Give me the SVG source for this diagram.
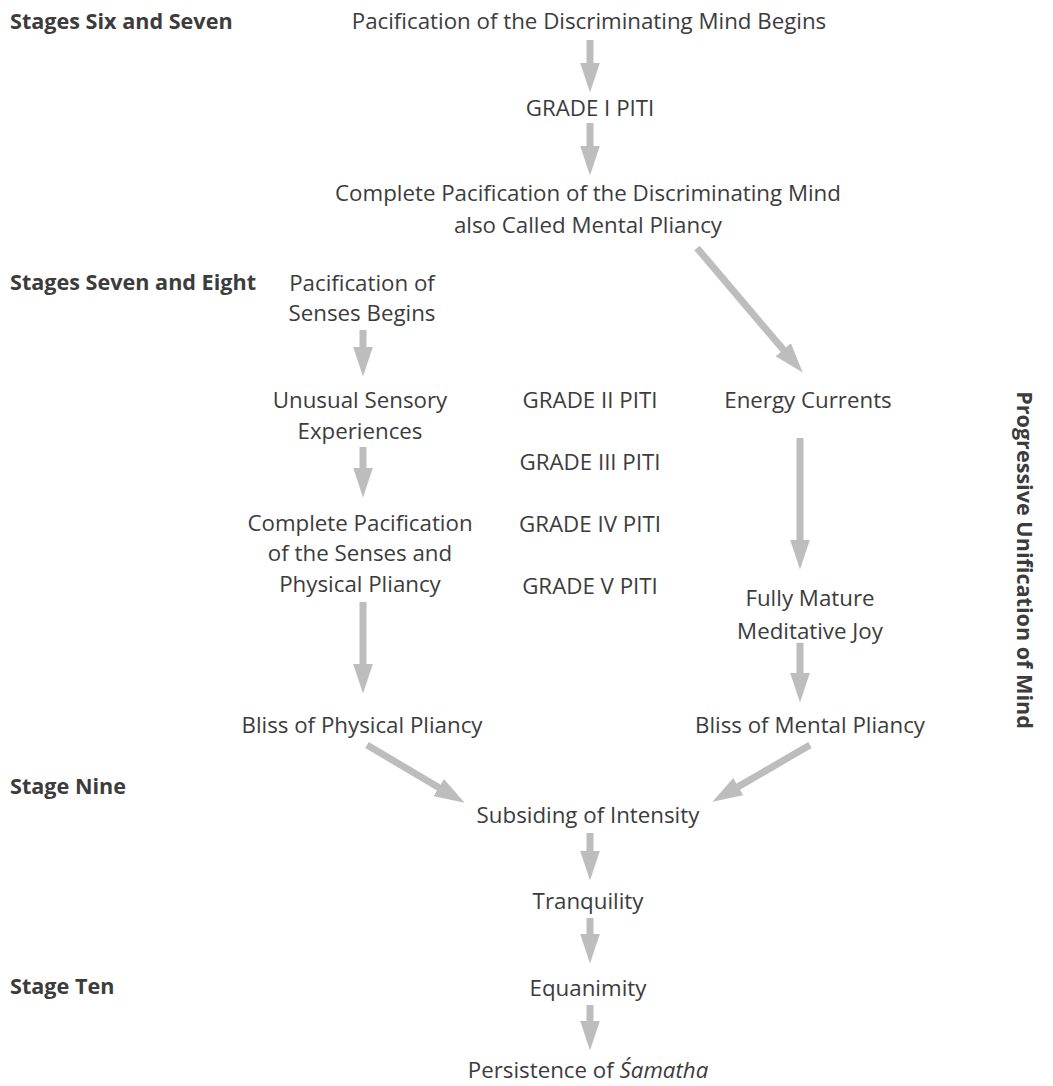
<svg xmlns="http://www.w3.org/2000/svg" width="1053" height="1086" viewBox="0 0 1053 1086">
<style>
text{font-family:"Open Sans","Noto Sans",sans-serif;font-size:22.3px;fill:#3c3c3c}
.c{text-anchor:middle}
.b{font-weight:bold;font-size:21.6px}
.arr{stroke:#bdbdbd;stroke-width:7;fill:none;marker-end:url(#ah)}
</style>
<defs>
<marker id="ah" viewBox="0 0 30 20" refX="0.5" refY="10" markerWidth="30" markerHeight="20" orient="auto" markerUnits="userSpaceOnUse">
<path d="M0,0 L30,10 L0,20 Z" fill="#bdbdbd"/>
</marker>
</defs>
<rect width="1053" height="1086" fill="#fff"/>
<g id="connectors">
<line class="arr" x1="590" y1="40" x2="590" y2="63"/>
<line class="arr" x1="590" y1="123" x2="590" y2="146"/>
<line class="arr" x1="697" y1="248" x2="783.6" y2="350.1"/>
<line class="arr" x1="363" y1="330" x2="363" y2="347"/>
<line class="arr" x1="363" y1="447" x2="363" y2="468"/>
<line class="arr" x1="363" y1="602" x2="363" y2="664"/>
<line class="arr" x1="800" y1="438" x2="800" y2="540"/>
<line class="arr" x1="800" y1="643" x2="800" y2="673"/>
<line class="arr" x1="367" y1="745" x2="439.2" y2="787.8"/>
<line class="arr" x1="810" y1="745" x2="737.9" y2="786.9"/>
<line class="arr" x1="590" y1="833" x2="590" y2="851"/>
<line class="arr" x1="590" y1="918" x2="590" y2="934"/>
<line class="arr" x1="590" y1="1005" x2="590" y2="1021"/>
</g>
<g id="labels">
<text class="b" x="10" y="29">Stages Six and Seven</text>
<text class="b" x="10" y="290">Stages Seven and Eight</text>
<text class="b" x="10" y="794">Stage Nine</text>
<text class="b" x="10" y="994">Stage Ten</text>
<text class="b c" transform="translate(1017,560) rotate(90)">Progressive Unification of Mind</text>
</g>
<g id="n1"><text class="c" x="589" y="29">Pacification of the Discriminating Mind Begins</text></g>
<g id="n2"><text class="c" x="590" y="116">GRADE I PITI</text></g>
<g id="n3"><text class="c" x="588" y="201">Complete Pacification of the Discriminating Mind</text><text class="c" x="588" y="233">also Called Mental Pliancy</text></g>
<g id="n4"><text class="c" x="362" y="291">Pacification of</text><text class="c" x="362" y="321">Senses Begins</text></g>
<g id="n5"><text class="c" x="360" y="408">Unusual Sensory</text><text class="c" x="360" y="439">Experiences</text></g>
<g id="n6"><text class="c" x="590" y="408">GRADE II PITI</text></g>
<g id="n7"><text class="c" x="808" y="408">Energy Currents</text></g>
<g id="n8"><text class="c" x="590" y="470">GRADE III PITI</text></g>
<g id="n9"><text class="c" x="360" y="531">Complete Pacification</text><text class="c" x="360" y="561">of the Senses and</text><text class="c" x="360" y="592">Physical Pliancy</text></g>
<g id="n10"><text class="c" x="590" y="532">GRADE IV PITI</text></g>
<g id="n11"><text class="c" x="590" y="594">GRADE V PITI</text></g>
<g id="n12"><text class="c" x="810" y="606">Fully Mature</text><text class="c" x="810" y="639">Meditative Joy</text></g>
<g id="n13"><text class="c" x="362" y="733">Bliss of Physical Pliancy</text></g>
<g id="n14"><text class="c" x="810" y="733">Bliss of Mental Pliancy</text></g>
<g id="n15"><text class="c" x="588" y="823">Subsiding of Intensity</text></g>
<g id="n16"><text class="c" x="588" y="909">Tranquility</text></g>
<g id="n17"><text class="c" x="588" y="996">Equanimity</text></g>
<g id="n18"><text class="c" x="588" y="1078">Persistence of <tspan font-style="italic">Śamatha</tspan></text></g>
</svg>
